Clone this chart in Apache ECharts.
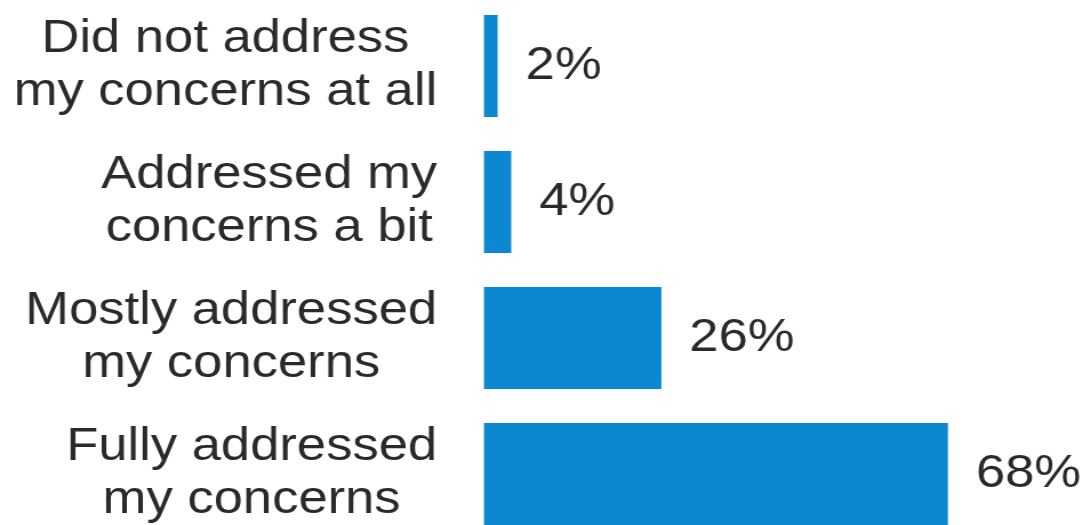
<!DOCTYPE html>
<html>
<head>
<meta charset="utf-8">
<script src="https://cdn.jsdelivr.net/npm/echarts@6/dist/echarts.min.js"></script>
<style>
  html, body { margin: 0; padding: 0; background: #ffffff; overflow: hidden; }
  /* the chart is drawn slightly narrow and widened, giving the wide lettering */
  #chart { width: 949px; height: 525px; transform: scaleX(1.1425); transform-origin: 0 0; }
</style>
</head>
<body>
<div id="chart"></div>
<script>
// Survey responses: how well the concerns were addressed (share of respondents, %)
var categories = [
  'Did not address\nmy concerns at all',
  'Addressed my\nconcerns a bit',
  'Mostly addressed\nmy concerns',
  'Fully addressed\nmy concerns'
];
var shares = [2, 4, 26, 68];

var textColor = '#2a2a2a';
var barColor = '#0b88d0';
var fontFamily = '"Liberation Sans", Arial, sans-serif';

var chart = echarts.init(document.getElementById('chart'), null, { renderer: 'canvas' });
chart.setOption({
  animation: false,
  backgroundColor: '#ffffff',
  grid: {
    left: 423.6, width: 447.9, top: -2, height: 544,
    containLabel: false,
    outerBoundsMode: 'none'
  },
  xAxis: {
    type: 'value',
    min: 0,
    max: 75,
    show: false
  },
  yAxis: {
    type: 'category',
    inverse: true,
    data: categories,
    axisLine: { show: false },
    axisTick: { show: false },
    splitLine: { show: false },
    axisLabel: {
      margin: 41,
      formatter: function (v) {
        return v.split('\n').map(function (s) { return '{c|' + s + '}'; }).join('\n');
      },
      rich: {
        c: {
          align: 'center',
          fontSize: 46,
          lineHeight: 53,
          color: textColor,
          fontFamily: fontFamily
        }
      }
    }
  },
  series: [{
    type: 'bar',
    data: shares,
    barCategoryGap: '25%',
    itemStyle: { color: barColor },
    label: {
      show: true,
      position: 'right',
      distance: 24.5,
      formatter: '{c}%',
      fontSize: 46,
      color: textColor,
      fontFamily: fontFamily
    }
  }]
});
</script>
</body>
</html>
